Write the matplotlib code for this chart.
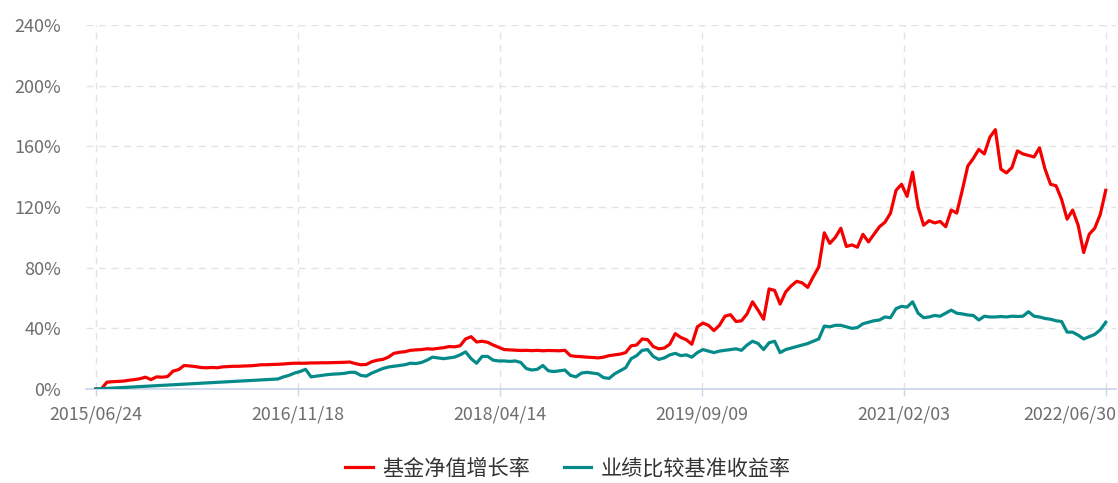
import numpy as np
import pandas as pd
import matplotlib
matplotlib.use('Agg')
import matplotlib.pyplot as plt
import matplotlib.dates as mdates
import matplotlib.transforms as mtransforms

plt.rcParams['font.family'] = ['Noto Sans CJK SC', 'DejaVu Sans']

# sample dates (every 14 days from the fund start)
dates = pd.date_range('2015-06-24', '2022-06-30', freq='14D')

# 基金净值增长率 (%)
fund = [
    0.0, 0.0, 4.5, 4.8, 5.0, 5.2, 5.8, 6.2, 6.8, 7.8,
    6.2, 8.0, 7.8, 8.2, 11.8, 12.8, 15.5, 15.2, 14.8, 14.2,
    14.0, 14.2, 14.0, 14.6, 14.8, 15.0, 15.0, 15.2, 15.3, 15.6,
    16.0, 16.0, 16.2, 16.3, 16.5, 16.8, 17.0, 17.0, 17.0, 17.2,
    17.2, 17.3, 17.3, 17.4, 17.5, 17.6, 17.8, 16.8, 16.0, 16.2,
    18.0, 19.0, 19.5, 21.0, 23.5, 24.2, 24.6, 25.5, 25.8, 26.0,
    26.5, 26.3, 26.8, 27.2, 28.0, 27.8, 28.5, 33.0, 34.5, 31.0,
    31.5, 30.8, 29.0, 27.5, 26.0, 25.8, 25.6, 25.4, 25.5, 25.3,
    25.5, 25.2, 25.4, 25.3, 25.2, 25.5, 22.0, 21.5, 21.3, 21.0,
    20.8, 20.5, 21.0, 22.0, 22.5, 23.0, 24.0, 28.5, 29.0, 33.0,
    32.5, 28.0, 26.5, 27.0, 29.5, 36.5, 34.0, 32.5, 29.5, 41.0,
    43.5, 42.0, 38.5, 42.0, 48.0, 49.0, 44.5, 45.0, 49.5, 57.5,
    52.0, 46.0, 66.0, 65.0, 56.0, 64.0, 68.0, 71.0, 70.0, 67.0,
    74.0, 80.5, 103.0, 96.0, 100.0, 106.0, 94.0, 95.0, 93.5, 102.0,
    97.0, 102.0, 107.0, 110.0, 116.0, 131.0, 135.0, 127.0, 143.0, 120.0,
    108.0, 111.0, 109.5, 110.5, 107.0, 118.0, 116.0, 131.0, 147.0, 152.0,
    158.0, 155.0, 166.0, 171.0, 145.0, 142.5, 146.0, 157.0, 155.0, 154.0,
    153.0, 159.0, 145.0, 135.0, 134.0, 125.0, 112.0, 118.0, 108.0, 90.0,
    102.0, 106.0, 115.0, 131.0,
]

# 业绩比较基准收益率 (%), no data until late 2016 (line joins the gap)
bench = [0.0] + [None] * 32 + [
    6.6, 8.0, 9.0, 10.5, 11.5, 13.0, 8.0,
    8.5, 9.0, 9.5, 9.8, 10.0, 10.3, 11.0, 11.0, 9.0, 8.5,
    10.5, 12.0, 13.5, 14.5, 15.0, 15.5, 16.0, 17.0, 16.8, 17.5,
    19.0, 21.0, 20.5, 20.0, 20.5, 21.0, 22.5, 24.5, 20.0, 17.0,
    21.5, 21.5, 19.0, 18.5, 18.5, 18.2, 18.5, 17.5, 13.5, 12.5,
    13.0, 15.5, 12.0, 11.5, 12.0, 12.5, 9.0, 8.0, 10.5, 11.0,
    10.5, 10.0, 7.5, 7.0, 10.0, 12.0, 14.0, 20.0, 22.0, 25.5,
    26.0, 21.5, 19.5, 20.5, 22.5, 23.5, 22.0, 22.5, 21.0, 24.0,
    26.0, 25.0, 24.0, 25.0, 25.5, 26.0, 26.5, 25.5, 29.0, 31.5,
    30.0, 26.0, 30.5, 31.5, 24.0, 26.0, 27.0, 28.0, 29.0, 30.0,
    31.5, 33.0, 41.5, 41.0, 42.0, 42.0, 41.0, 40.0, 40.5, 43.0,
    44.0, 45.0, 45.5, 47.5, 47.0, 53.0, 54.5, 54.0, 57.5, 50.0,
    47.0, 47.5, 48.5, 48.0, 50.0, 52.0, 50.0, 49.5, 48.8, 48.5,
    45.5, 48.0, 47.5, 47.5, 47.8, 47.5, 48.0, 47.8, 48.0, 51.0,
    48.0, 47.5, 46.5, 46.0, 45.0, 44.5, 37.5, 37.5, 35.5, 33.0,
    34.5, 36.0, 39.0, 44.0,
]

tick_dates = ['2015-06-24', '2016-11-18', '2018-04-14', '2019-09-09', '2021-02-03', '2022-06-30']
y_ticks = [0, 40, 80, 120, 160, 200, 240]

labels = ['基金净值增长率', '业绩比较基准收益率']
colors = ['#f50000', '#058a8a']

fund_s = pd.Series(fund, index=dates, dtype=float)
bench_s = pd.Series(bench, index=dates, dtype=float).dropna()

fig = plt.figure(figsize=(11.18, 4.83), dpi=100)
ax = fig.add_axes([0.0769, 0.1946, 0.9213, 0.7536])

ax.plot(fund_s.index, fund_s.values, color=colors[0], lw=2.3, label=labels[0], zorder=3)
ax.plot(bench_s.index, bench_s.values, color=colors[1], lw=2.3, label=labels[1], zorder=3)

pad = pd.Timedelta(days=25)
ax.set_xlim(pd.Timestamp(tick_dates[0]) - pad, pd.Timestamp(tick_dates[-1]) + pad)
ax.set_ylim(0, 240)

ax.set_xticks(pd.to_datetime(tick_dates))
ax.xaxis.set_major_formatter(mdates.DateFormatter('%Y/%m/%d'))
ax.set_yticks(y_ticks)
ax.set_yticklabels([f'{v}%' for v in y_ticks])

for s in ['top', 'right', 'left']:
    ax.spines[s].set_visible(False)
ax.spines['bottom'].set_color('#c9d3ec')
ax.spines['bottom'].set_linewidth(1.2)

ax.tick_params(axis='x', length=5, width=1, color='#c9d3ec', pad=7,
               labelsize=12.8, labelcolor='#6e6e6e')
ax.tick_params(axis='y', length=0, pad=18, labelsize=13, labelcolor='#6e6e6e')

# last date label is pulled inside the figure like the original
fig.canvas.draw()
last = ax.get_xticklabels()[-1]
last.set_ha('right')
last.set_transform(last.get_transform() +
                   mtransforms.ScaledTranslation(0.10, 0, fig.dpi_scale_trans))

ax.grid(True, axis='both', color='#e3e3e3', linestyle=(0, (5, 4)), linewidth=1)
ax.set_axisbelow(True)

fig.legend(loc='center', bbox_to_anchor=(0.508, 0.03), ncol=2, frameon=False,
           fontsize=15.2, handlelength=1.3, handletextpad=0.45, columnspacing=1.6,
           labelcolor='#333333')

fig.savefig('out.png', dpi=100)
